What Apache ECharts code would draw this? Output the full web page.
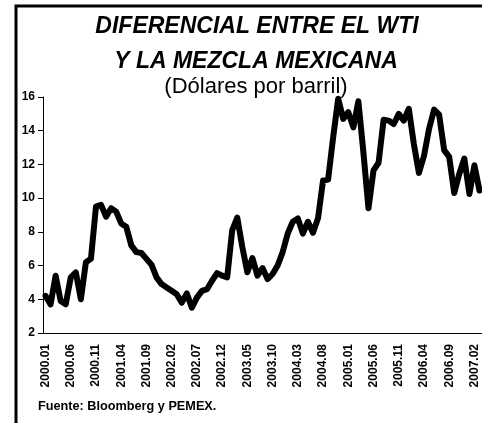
<!DOCTYPE html>
<html>
<head>
<meta charset="utf-8">
<script src="https://cdn.jsdelivr.net/npm/echarts@6/dist/echarts.min.js"></script>
<style>
  html, body { margin: 0; padding: 0; background: #fff; }
  #Chart { width: 482px; height: 423px; }
</style>
</head>
<body>
<div id="Chart"></div>
<script>
  var chartDom = document.getElementById("Chart");
  var myChart = echarts.init(chartDom);
  var FONT = '"Liberation Sans", Arial, sans-serif';

  // meses: 2000.01 - 2007.03
  var months = [];
  for (var y = 2000; y <= 2007; y++) {
    for (var m = 1; m <= 12; m++) {
      if (y === 2007 && m > 3) break;
      months.push(y + "." + (m < 10 ? "0" + m : m));
    }
  }

  // diferencial WTI - mezcla mexicana (dolares por barril)
  var diferencial = [
    4.2, 3.7, 5.4, 3.9, 3.7, 5.3, 5.6, 4.0, 6.2, 6.4, 9.5, 9.6,
    8.9, 9.4, 9.2, 8.5, 8.3, 7.2, 6.8, 6.75, 6.4, 6.05, 5.3, 4.9,
    4.7, 4.5, 4.3, 3.8, 4.35, 3.5, 4.1, 4.5, 4.6, 5.1, 5.55, 5.4,
    5.3, 8.1, 8.85, 7.1, 5.6, 6.45, 5.4, 5.85, 5.2, 5.5, 6.0, 6.8,
    7.9, 8.6, 8.8, 7.9, 8.6, 7.95, 8.8, 11.05, 11.1, 13.6, 15.9, 14.7,
    15.1, 14.2, 15.75, 12.7, 9.4, 11.65, 12.1, 14.65, 14.6, 14.4, 15.0, 14.6,
    15.3, 13.2, 11.5, 12.5, 14.1, 15.25, 14.95, 12.85, 12.45, 10.3, 11.45, 12.35,
    10.25, 11.95, 10.45
  ];

  var titulo1 = "DIFERENCIAL ENTRE EL WTI";
  var titulo2 = "Y LA MEZCLA MEXICANA";
  var unidades = "(Dólares por barril)";
  var fuente = "Fuente: Bloomberg y PEMEX.";

  var option = {
    backgroundColor: "#fff",
    animation: false,
    title: [
      {
        text: titulo1,
        left: 252,
        top: 10,
        textAlign: "center",
        textStyle: { fontFamily: FONT, fontSize: 23, fontWeight: "bold", fontStyle: "italic", color: "#000" }
      },
      {
        text: titulo2,
        left: 251,
        top: 45,
        textAlign: "center",
        textStyle: { fontFamily: FONT, fontSize: 23, fontWeight: "bold", fontStyle: "italic", color: "#000" }
      },
      {
        text: unidades,
        left: 251,
        top: 71,
        textAlign: "center",
        textStyle: { fontFamily: FONT, fontSize: 22, fontWeight: "normal", color: "#000" }
      }
    ],
    graphic: [
      {
        type: "rect",
        shape: { x: 16, y: 6, width: 520, height: 520 },
        style: { fill: null, stroke: "#000", lineWidth: 3 }
      },
      {
        type: "text",
        left: 38,
        top: 400,
        style: { text: fuente, fontFamily: FONT, fontSize: 12.7, fontWeight: "bold", fill: "#000" }
      }
    ],
    grid: {
      left: 43,
      top: 97,
      width: 439,
      height: 236
    },
    xAxis: {
      type: "category",
      data: months,
      boundaryGap: true,
      axisLine: { lineStyle: { color: "#000", width: 1 } },
      axisTick: { interval: 4, length: 5, lineStyle: { color: "#000" } },
      axisLabel: {
        interval: 4,
        rotate: 90,
        margin: 11,
        fontFamily: FONT,
        fontSize: 12,
        fontWeight: "bold",
        color: "#000"
      },
      splitLine: { show: false }
    },
    yAxis: {
      type: "value",
      min: 2,
      max: 16,
      interval: 2,
      axisLine: { show: true, lineStyle: { color: "#000", width: 1 } },
      axisTick: { show: true, length: 5, lineStyle: { color: "#000" } },
      axisLabel: {
        margin: 8,
        fontFamily: FONT,
        fontSize: 12,
        fontWeight: "bold",
        color: "#000"
      },
      splitLine: { show: false }
    },
    series: [
      {
        type: "line",
        data: diferencial,
        showSymbol: false,
        symbol: "none",
        lineStyle: { color: "#000", width: 6, cap: "round", join: "round" }
      }
    ]
  };
  myChart.setOption(option);
</script>
</body>
</html>
